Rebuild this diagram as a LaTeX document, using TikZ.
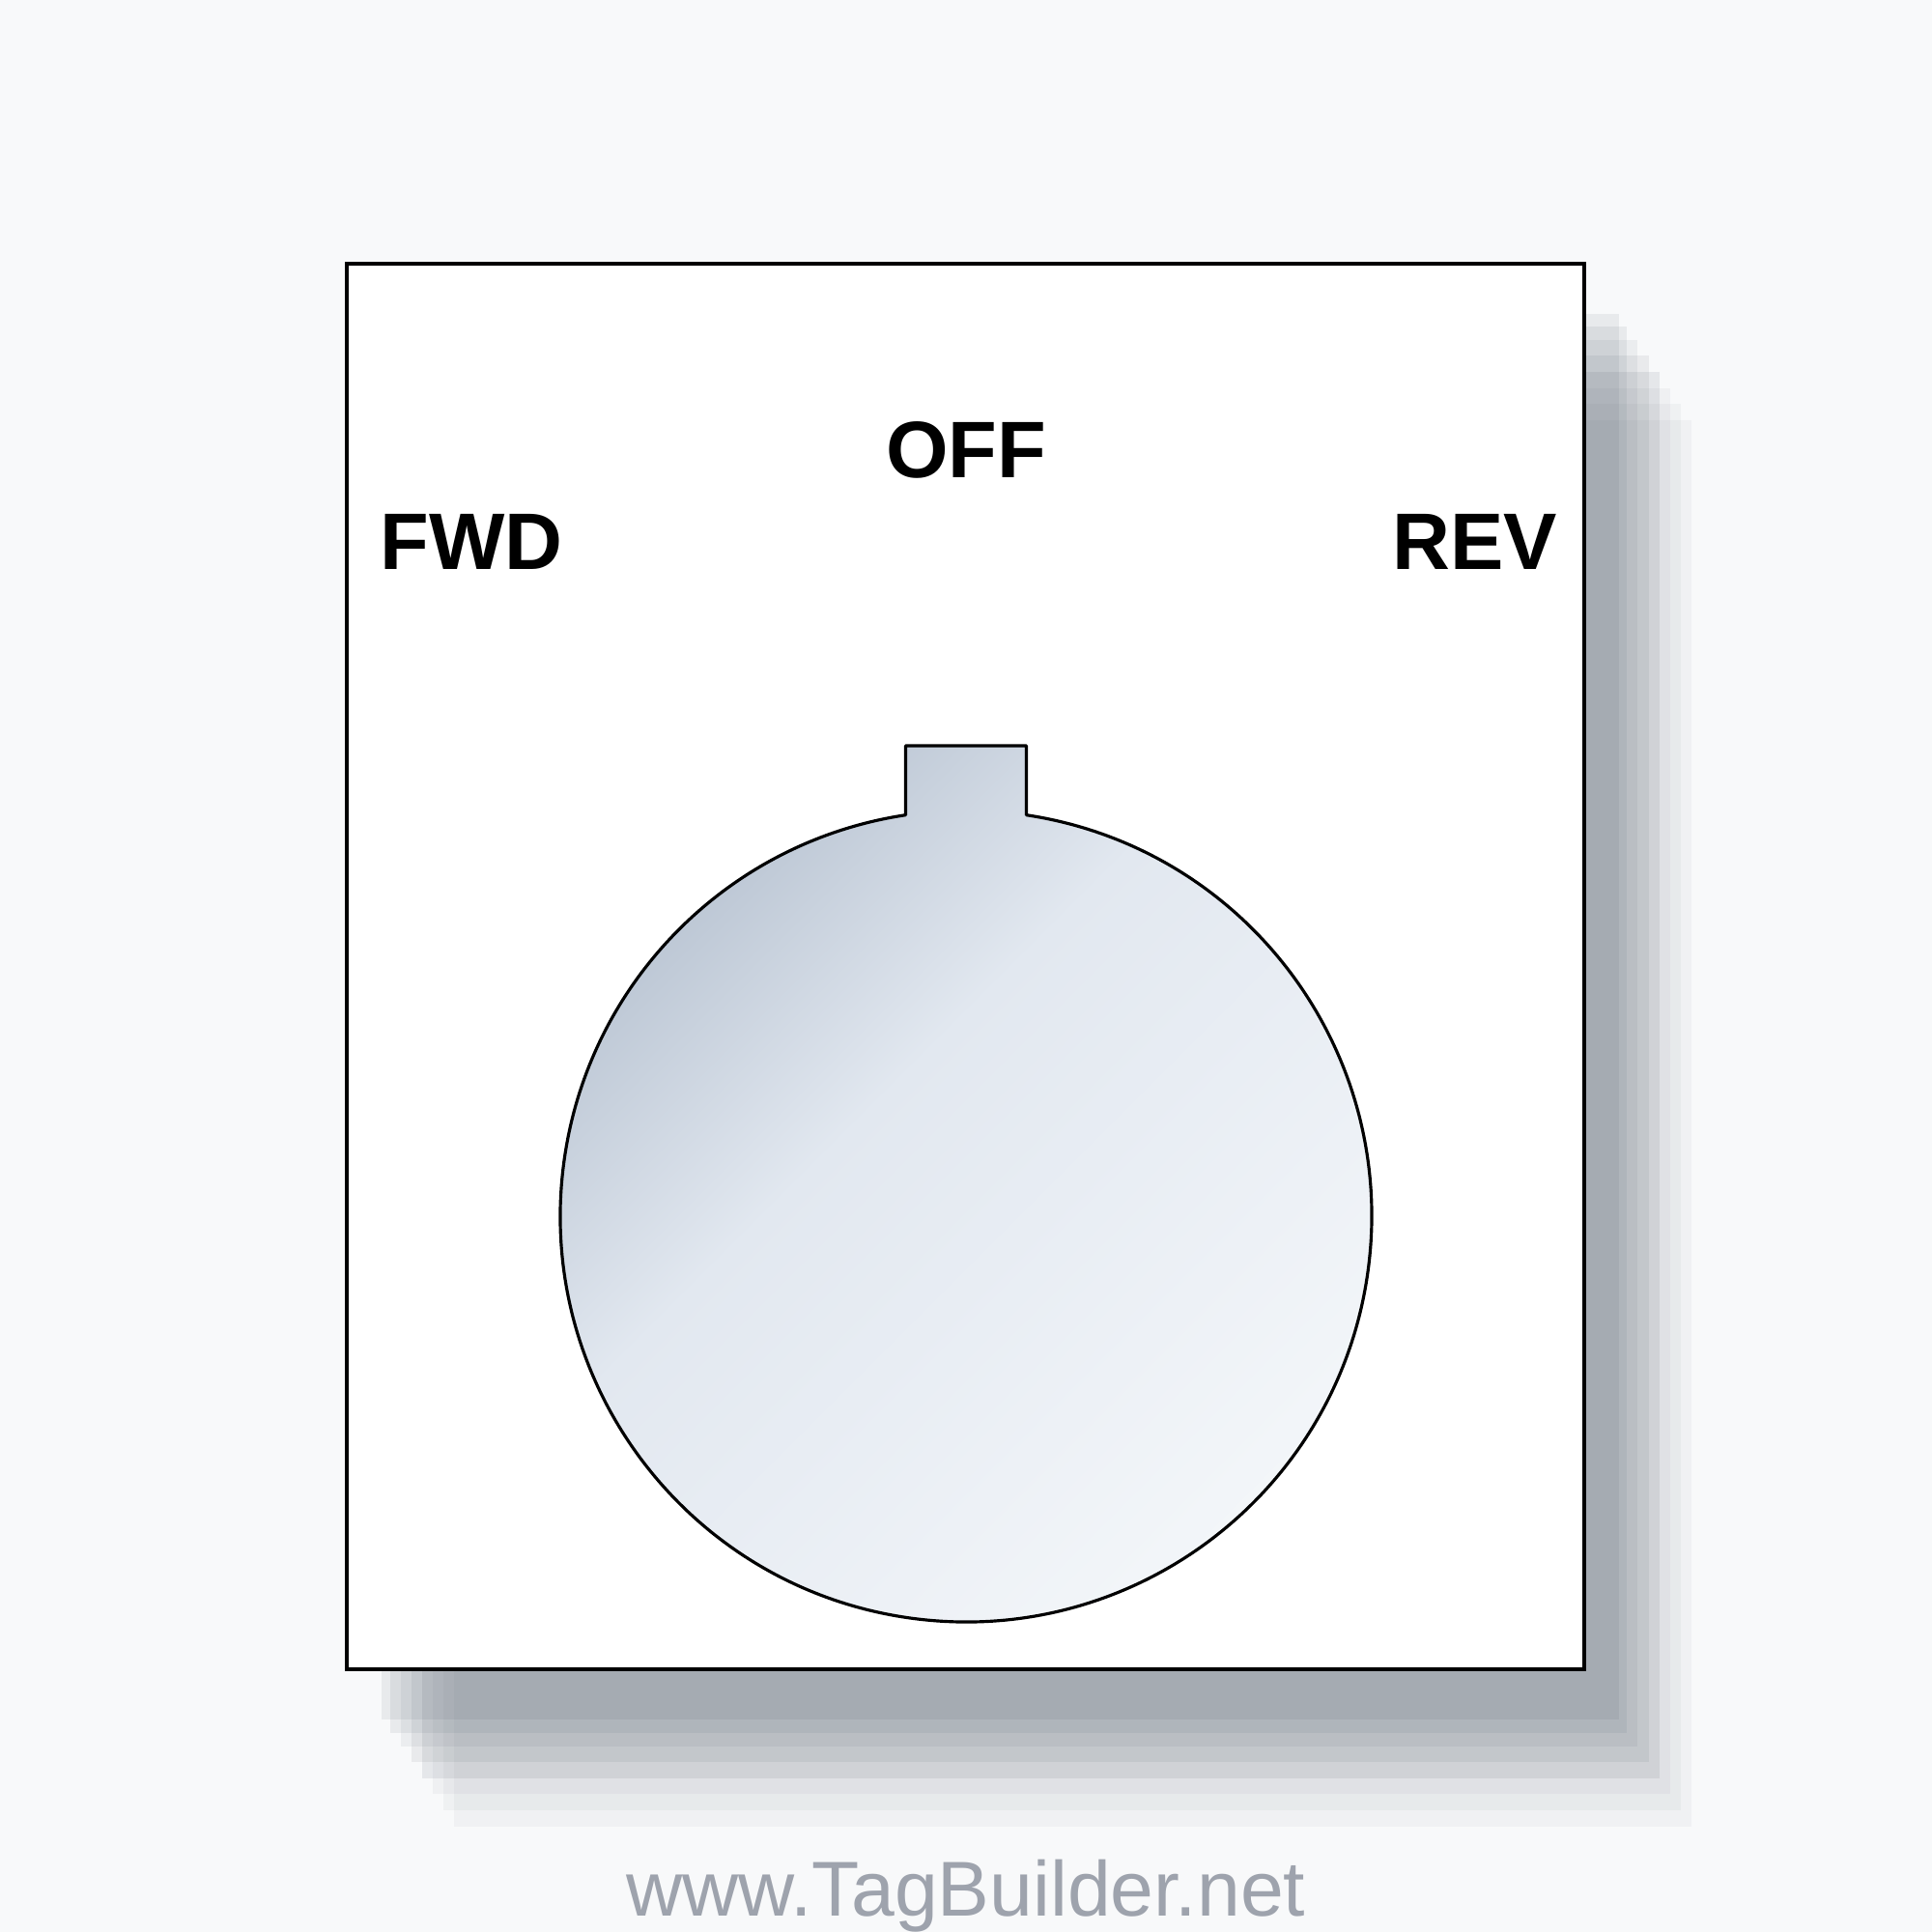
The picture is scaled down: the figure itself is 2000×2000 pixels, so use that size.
\documentclass[tikz,border=0pt]{standalone}
\usepackage{fontspec}
\setmainfont{Liberation Sans}
\definecolor{bgc}{RGB}{248,249,250}
\definecolor{shadowc}{RGB}{75,85,99}
\definecolor{dA}{RGB}{160,174,192}
\definecolor{dB}{RGB}{226,232,240}
\definecolor{dC}{RGB}{248,250,252}
\definecolor{footc}{RGB}{158,163,173}
\pgfdeclarehorizontalshading{dialshade}{100bp}{color(0bp)=(dA); color(25bp)=(dA); color(45bp)=(dB); color(75bp)=(dC); color(100bp)=(dC)}
\begin{document}
\begin{tikzpicture}[x=0.01cm,y=0.01cm,
  lbl/.style={inner sep=0pt,font=\fontsize{23.6}{28}\selectfont\bfseries,text=black},
  foot/.style={inner sep=0pt,font=\fontsize{22.9}{27}\selectfont,text=footc},
  shl/.style={fill=shadowc,draw=none}]
\fill[bgc] (0,0) rectangle (2000,-2000);
\useasboundingbox (0,0) rectangle (2000,-2000);
% shadow layers
\fill[shl,fill opacity=0.09] (395,-325) rectangle (1676,-1780);
\fill[shl,fill opacity=0.09] (404,-338) rectangle (1684,-1794);
\fill[shl,fill opacity=0.07] (415,-352) rectangle (1695,-1808);
\fill[shl,fill opacity=0.085] (426,-368) rectangle (1707,-1824);
\fill[shl,fill opacity=0.105] (437,-385) rectangle (1718,-1841);
\fill[shl,fill opacity=0.05] (448,-402) rectangle (1729,-1857);
\fill[shl,fill opacity=0.047] (459,-418) rectangle (1740,-1874);
\fill[shl,fill opacity=0.045] (470,-435) rectangle (1751,-1891);
% plate
\draw[line width=1.0pt,fill=white] (359,-273) rectangle (1640,-1728);
% dial
\begin{scope}
\clip (937.5,-843.7) -- (937.5,-772) -- (1062.5,-772) -- (1062.5,-843.7)
  arc[start angle=81.44,end angle=-261.44,radius=420] -- cycle;
\begin{scope}[transform canvas={shift={(1000,-1225.5)},rotate=-45}]
\shade[shading=dialshade] (-618,-720) rectangle (618,720);
\end{scope}
\end{scope}
\draw[line width=0.9pt,line join=round] (937.5,-843.7) -- (937.5,-772) -- (1062.5,-772) -- (1062.5,-843.7)
  arc[start angle=81.44,end angle=-261.44,radius=420] -- cycle;
% labels
\node[lbl,anchor=base] (off) at (1000,-494) {OFF};
\node[lbl,anchor=base west] (fwd) at (393,-589) {FWD};
\node[lbl,anchor=base west] (rev) at (1441,-589) {REV};
\node[foot,anchor=base] (url) at (1000,-1983) {www.TagBuilder.net};
\end{tikzpicture}
\end{document}
